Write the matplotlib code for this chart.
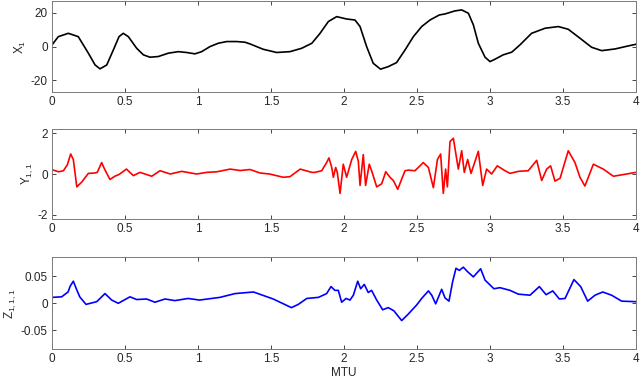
#!/usr/bin/env python3

import matplotlib.pyplot as plt

plt.rcParams.update({
    "font.family": ["Liberation Sans", "DejaVu Sans"],
    "font.size": 8.5,
    "axes.unicode_minus": False,
    "mathtext.fontset": "custom",
    "mathtext.rm": "Liberation Sans",
    "mathtext.default": "regular",
})

# X_1 (black)
x1_t = [0.0, 0.043, 0.112, 0.18, 0.249, 0.295, 0.329, 0.375, 0.42, 0.459, 0.488, 0.523,
        0.58, 0.626, 0.671, 0.728, 0.797, 0.865, 0.922, 0.979, 1.025, 1.082, 1.139, 1.197,
        1.265, 1.322, 1.356, 1.447, 1.539, 1.63, 1.71, 1.78, 1.836, 1.893, 1.95, 2.018,
        2.075, 2.11, 2.155, 2.2, 2.25, 2.303, 2.36, 2.418, 2.475, 2.532, 2.589, 2.653,
        2.692, 2.76, 2.806, 2.852, 2.886, 2.92, 2.966, 3.0, 3.034, 3.09, 3.149, 3.205,
        3.285, 3.377, 3.468, 3.536, 3.616, 3.696, 3.765, 3.856, 3.947, 4.0]
x1_v = [1.0, 5.9, 7.9, 5.9, -3.9, -10.9, -13.2, -10.9, -2.0, 5.9, 7.9, 5.9,
        -1.0, -4.9, -6.3, -5.9, -3.9, -3.0, -3.5, -4.3, -3.0, 0.0, 2.0, 3.0,
        3.0, 2.6, 1.6, -1.6, -3.5, -3.0, -1.0, 2.0, 7.9, 14.9, 17.8, 16.4,
        15.8, 11.9, 0.0, -9.9, -13.4, -11.9, -9.5, -2.0, 5.9, 11.9, 15.8, 18.8,
        19.4, 21.2, 21.8, 19.8, 12.9, 2.0, -6.3, -8.9, -7.5, -4.9, -3.3, 1.0,
        7.9, 10.9, 11.9, 10.3, 5.0, -0.4, -2.4, -1.4, 0.4, 1.4]

# Y_{1,1} (red)
y11_t = [0.0, 0.045, 0.078, 0.105, 0.128, 0.146, 0.17, 0.203, 0.249, 0.295, 0.31, 0.34,
         0.36, 0.397, 0.43, 0.46, 0.51, 0.557, 0.603, 0.683, 0.74, 0.81, 0.888, 0.99,
         1.06, 1.13, 1.22, 1.29, 1.356, 1.425, 1.49, 1.584, 1.63, 1.70, 1.78, 1.801,
         1.847, 1.881, 1.897, 1.916, 1.927, 1.943, 1.954, 1.973, 1.995, 2.018, 2.053,
         2.08, 2.098, 2.11, 2.132, 2.148, 2.173, 2.189, 2.224, 2.258, 2.286, 2.315,
         2.338, 2.368, 2.4, 2.418, 2.441, 2.486, 2.543, 2.578, 2.612, 2.64, 2.662, 2.68,
         2.696, 2.708, 2.726, 2.749, 2.783, 2.806, 2.824, 2.847, 2.87, 2.92, 2.95, 2.977,
         3.011, 3.05, 3.103, 3.137, 3.194, 3.262, 3.32, 3.354, 3.388, 3.415, 3.445, 3.48,
         3.536, 3.582, 3.616, 3.65, 3.708, 3.776, 3.845, 3.936, 4.0]
y11_v = [0.21, 0.11, 0.16, 0.45, 0.98, 0.71, -0.63, -0.40, 0.03, 0.05, 0.08, 0.56,
         0.24, -0.27, -0.11, -0.02, 0.24, -0.08, 0.08, -0.11, 0.16, 0.0, 0.13, 0.0,
         0.08, 0.11, 0.24, 0.17, 0.22, 0.05, 0.0, -0.16, -0.13, 0.24, 0.08, 0.08,
         0.16, 0.56, 0.79, 0.32, -0.16, 0.32, 0.08, -0.95, 0.48, -0.16, 0.71,
         1.11, 0.63, -0.56, 0.95, -0.56, 0.48, 0.16, -0.63, -0.48, 0.11, -0.16,
         -0.32, -0.75, -0.16, 0.16, 0.19, 0.16, 0.56, 0.32, -0.67, 0.71, 0.98, -0.95,
         0.24, -0.63, 1.59, 1.75, 0.24, 1.14, 0.08, 0.71, 0.03, 1.11, -0.56, 0.24,
         0.0, 0.40, 0.16, 0.03, 0.13, 0.16, 0.67, -0.32, 0.24, 0.40, -0.35, -0.21,
         1.14, 0.56, -0.16, -0.59, 0.48, 0.24, -0.11, 0.0, 0.08]

# Z_{1,1,1} (blue)
z111_t = [0.0, 0.066, 0.11, 0.125, 0.146, 0.168, 0.19, 0.233, 0.306, 0.363, 0.409, 0.454,
          0.534, 0.58, 0.648, 0.705, 0.774, 0.842, 0.933, 1.01, 1.15, 1.253, 1.38, 1.515,
          1.64, 1.687, 1.745, 1.825, 1.881, 1.911, 1.938, 1.961, 1.984, 2.014, 2.041,
          2.064, 2.094, 2.114, 2.139, 2.166, 2.189, 2.224, 2.265, 2.303, 2.342, 2.395,
          2.44, 2.498, 2.532, 2.578, 2.601, 2.628, 2.669, 2.692, 2.719, 2.744, 2.767,
          2.79, 2.817, 2.845, 2.886, 2.936, 2.966, 3.027, 3.068, 3.137, 3.194, 3.274,
          3.338, 3.384, 3.43, 3.475, 3.514, 3.575, 3.621, 3.669, 3.719, 3.772, 3.833,
          3.902, 4.0]
z111_v = [0.011, 0.012, 0.021, 0.032, 0.041, 0.026, 0.012, -0.002, 0.003, 0.018, 0.006, 0.0,
          0.012, 0.007, 0.008, 0.002, 0.008, 0.005, 0.009, 0.006, 0.011, 0.018, 0.021, 0.008,
          -0.008, -0.002, 0.009, 0.011, 0.018, 0.031, 0.024, 0.024, 0.002, 0.009, 0.006,
          0.015, 0.041, 0.027, 0.035, 0.020, 0.024, 0.006, -0.012, -0.008, -0.014, -0.032,
          -0.020, -0.003, 0.009, 0.023, 0.015, -0.001, 0.026, 0.010, 0.004, 0.040, 0.065,
          0.061, 0.067, 0.059, 0.049, 0.064, 0.043, 0.027, 0.029, 0.024, 0.017, 0.015,
          0.031, 0.016, 0.023, 0.008, 0.009, 0.044, 0.031, 0.004, 0.015, 0.021, 0.015,
          0.004, 0.003]

panels = [
    (x1_t, x1_v, "black", r"X$_1$", (-27, 27), [-20, 0, 20], [0.759, 0.997]),
    (y11_t, y11_v, "red", r"Y$_{1,1}$", (-2.2, 2.2), [-2, 0, 2], [0.427, 0.662]),
    (z111_t, z111_v, "blue", r"Z$_{1,1,1}$", (-0.085, 0.085), [-0.05, 0, 0.05], [0.086, 0.326]),
]

fig = plt.figure(figsize=(6.4, 3.82), dpi=100)
left, right = 52 / 640, 636 / 640

axes = []
for t, v, color, label, ylim, yticks, (bot, top) in panels:
    ax = fig.add_axes([left, bot, right - left, top - bot])
    ax.plot(t, v, color=color, lw=1.2, solid_joinstyle="round")
    ax.set_xlim(0, 4)
    ax.set_ylim(*ylim)
    ax.set_yticks(yticks)
    ax.set_yticklabels([f"{y:g}" for y in yticks])
    ax.set_xticks([0, 0.5, 1, 1.5, 2, 2.5, 3, 3.5, 4])
    ax.set_xticklabels(["0", "0.5", "1", "1.5", "2", "2.5", "3", "3.5", "4"])
    ax.set_ylabel(label, color="#262626", labelpad=2)
    ax.tick_params(direction="in", top=True, right=True, length=3, width=0.6,
                   colors="#262626", labelcolor="#262626", pad=3)
    for s in ax.spines.values():
        s.set_color("#7a7a7a")
        s.set_linewidth(0.7)
    axes.append(ax)

axes[-1].set_xlabel("MTU", color="#262626", labelpad=1)

fig.savefig("out.png", dpi=100)
